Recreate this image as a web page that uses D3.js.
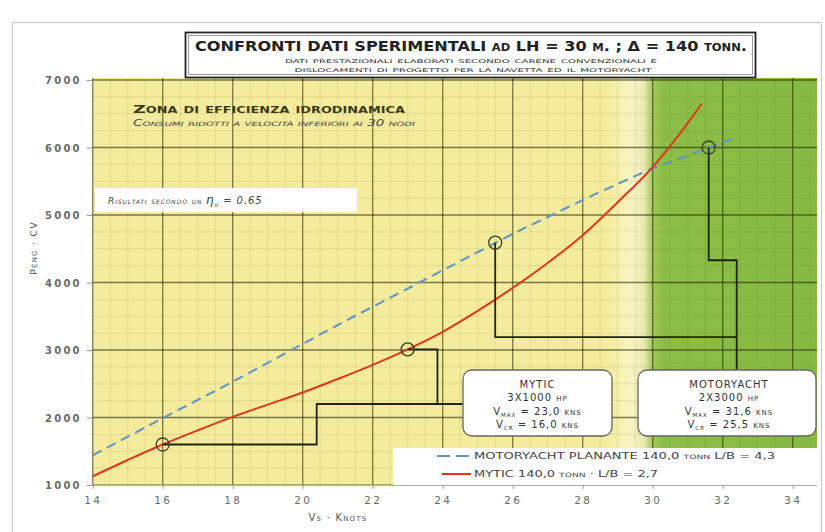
<!DOCTYPE html>
<html><head><meta charset="utf-8">
<script src="https://cdn.jsdelivr.net/npm/d3@7"></script>
<style>
body{margin:0;background:#fff;}
svg text{font-family:"DejaVu Sans",sans-serif;}
</style></head>
<body><svg id="c" width="825" height="532"></svg>
<script>
// ---------- DATA ----------
const xTicks = [14,16,18,20,22,24,26,28,30,32,34];
const yTicks = [1000,2000,3000,4000,5000,6000,7000];
const myticSpeed = [14,15,16,17,18,19,20,21,22,23,24,25,26,27,28,29,30,31,31.4];
const myticPower = [1130,1370,1600,1810,2010,2190,2370,2570,2780,3010,3270,3580,3920,4290,4700,5190,5710,6360,6650];
const yachtSpeed = [14,15,16,17,18,19,20,21,22,23,24,25,26,27,28,29,30,31,31.6,32.3];
const yachtPower = [1440,1715,1990,2260,2530,2810,3090,3370,3640,3910,4180,4450,4720,4970,5220,5460,5690,5880,6000,6130];
// marked operating points [knots, CV]
const myticPoints = [[16,1600],[23,3010]];
const yachtPoints = [[25.5,4590],[31.6,6000]];
// leader lines [knots, CV]
const myticLeaders = [[[16,1600],[20.4,1600],[20.4,2200],[25,2200]],[[23,3010],[23.85,3010],[23.85,2200]]];
const yachtLeaders = [[[25.5,4590],[25.5,3190],[32.4,3190]],[[31.6,6000],[31.6,4330],[32.4,4330],[32.4,2700]]];
const legendLabels = ["MOTORYACHT PLANANTE 140,0 tonn L/B = 4,3","MYTIC 140,0 tonn · L/B = 2,7"];

// ---------- LAYOUT ----------
const svg = d3.select("#c");
const L=92.7, R=817, T=80, B=485;
const x = d3.scaleLinear().domain([14,34]).range([L, L+20*35]);
const y = d3.scaleLinear().domain([1000,7000]).range([B,T]);
const xMax = x.invert(R);

svg.append("rect").attr("x",12.5).attr("y",22.5).attr("width",809).attr("height",520)
  .attr("fill","#fff").attr("stroke","#c8c8c8").attr("stroke-width",1.2);

// background gradient yellow -> green
const defs = svg.append("defs");
const g = defs.append("linearGradient").attr("id","bg").attr("gradientUnits","userSpaceOnUse")
  .attr("x1",L).attr("x2",R).attr("y1",0).attr("y2",0);
const frac = v => (x(v)-L)/(R-L);
[[14,"#f4ec9c"],[28.7,"#f4ec9c"],[29.4,"#f8f4c2"],[29.75,"#e8eab0"],[30.0,"#a2c85a"],[30.3,"#8bbd47"],[xMax,"#86b942"]]
  .forEach(([v,c])=>g.append("stop").attr("offset",frac(v)).attr("stop-color",c));
svg.append("rect").attr("x",L).attr("y",T-2).attr("width",R-L).attr("height",B-T+2).attr("fill","url(#bg)");

// minor grid
const minorX = d3.range(14.5, xMax, 0.5).filter(v=>v%2!==0);
const minorY = d3.range(1250, 7000, 250).filter(v=>v%1000!==0);
svg.append("g").selectAll("line").data(minorX).join("line")
  .attr("x1",d=>x(d)).attr("x2",d=>x(d)).attr("y1",T-2).attr("y2",B)
  .attr("stroke","rgba(90,80,20,0.14)").attr("stroke-width",0.8);
svg.append("g").selectAll("line").data(minorY).join("line")
  .attr("x1",L).attr("x2",R).attr("y1",d=>y(d)).attr("y2",d=>y(d))
  .attr("stroke","rgba(90,80,20,0.14)").attr("stroke-width",0.8);
// major grid
svg.append("g").selectAll("line").data(xTicks).join("line")
  .attr("x1",d=>x(d)).attr("x2",d=>x(d)).attr("y1",T-2).attr("y2",B)
  .attr("stroke","rgba(35,35,5,0.58)").attr("stroke-width",1.3);
svg.append("g").selectAll("line").data(yTicks.slice(1)).join("line")
  .attr("x1",L).attr("x2",R).attr("y1",d=>y(d)).attr("y2",d=>y(d))
  .attr("stroke","rgba(35,35,5,0.58)").attr("stroke-width",1.3);
svg.append("line").attr("x1",L).attr("x2",R).attr("y1",B).attr("y2",B).attr("stroke","#8aa84a").attr("stroke-width",1.5);

// axes
const yAxis = d3.axisLeft(y).tickValues(yTicks).tickSize(6).tickPadding(5).tickFormat(d3.format("d"));
const ya = svg.append("g").attr("transform",`translate(${L},0)`).call(yAxis);
ya.select(".domain").remove();
ya.selectAll("line").attr("stroke","#999");
ya.selectAll("text").attr("fill","#6a6a6a").attr("font-size",10).attr("font-weight","bold").attr("letter-spacing",2.2).attr("dy","0.35em");
const xAxis = d3.axisBottom(x).tickValues(xTicks).tickSize(4).tickPadding(8);
const xa = svg.append("g").attr("transform",`translate(0,${B})`).call(xAxis);
xa.select(".domain").remove();
xa.selectAll("line").attr("stroke","#999");
xa.selectAll("text").attr("fill","#6a6a6a").attr("font-size",10.5).attr("letter-spacing",2.2);

svg.append("text").attr("x",338).attr("y",521).attr("text-anchor","middle")
  .attr("font-size",10).attr("fill","#555").attr("letter-spacing",1.2).style("font-variant","small-caps")
  .text("Vs · Knots");
svg.append("text").attr("transform","translate(37,248) rotate(-90)").attr("text-anchor","middle")
  .attr("font-size",9.5).attr("fill","#555").attr("letter-spacing",1.2).style("font-variant","small-caps")
  .text("Peng · CV");

// curves
const line = d3.line().x(d=>x(d[0])).y(d=>y(d[1])).curve(d3.curveMonotoneX);
svg.append("path").datum(yachtSpeed.map((s,i)=>[s,yachtPower[i]])).attr("d",line)
  .attr("fill","none").attr("stroke","#5d93c8").attr("stroke-width",2).attr("stroke-dasharray","10,6");
svg.append("path").datum(myticSpeed.map((s,i)=>[s,myticPower[i]])).attr("d",line)
  .attr("fill","none").attr("stroke","#e0361c").attr("stroke-width",2);

// leaders
const pl = d3.line().x(d=>x(d[0])).y(d=>y(d[1]));
svg.append("g").selectAll("path").data(myticLeaders.concat(yachtLeaders)).join("path")
  .attr("d",pl).attr("fill","none").attr("stroke","#1d2410").attr("stroke-width",1.8);
svg.append("g").selectAll("circle").data(myticPoints.concat(yachtPoints)).join("circle")
  .attr("cx",d=>x(d[0])).attr("cy",d=>y(d[1])).attr("r",6.5)
  .attr("fill","none").attr("stroke","#3a3a1a").attr("stroke-width",1.3);

// title box
svg.append("rect").attr("x",185.5).attr("y",32.5).attr("width",570).attr("height",45)
  .attr("fill","#fff").attr("stroke","#222").attr("stroke-width",1.8);
svg.append("rect").attr("x",188.5).attr("y",35.5).attr("width",564).attr("height",39)
  .attr("fill","none").attr("stroke","#555").attr("stroke-width",0.6);
svg.append("text").attr("x",471).attr("y",51).attr("text-anchor","middle").attr("font-size",14).attr("font-weight","bold")
  .attr("fill","#222").attr("textLength",552).attr("lengthAdjust","spacingAndGlyphs").style("font-variant","small-caps")
  .text("CONFRONTI DATI SPERIMENTALI ad LH = 30 m. ; Δ = 140 tonn.");
svg.append("text").attr("x",471).attr("y",62.5).attr("text-anchor","middle").attr("font-size",7.5)
  .attr("fill","#333").attr("textLength",372).attr("lengthAdjust","spacingAndGlyphs").style("font-variant","small-caps")
  .text("dati prestazionali elaborati secondo carene convenzionali e");
svg.append("text").attr("x",473).attr("y",72).attr("text-anchor","middle").attr("font-size",7.5)
  .attr("fill","#333").attr("textLength",357).attr("lengthAdjust","spacingAndGlyphs").style("font-variant","small-caps")
  .text("dislocamenti di progetto per la navetta ed il motoryacht");

// zone text
svg.append("text").attr("x",133).attr("y",113).attr("font-size",11).attr("font-weight","bold")
  .attr("fill","#3a3818").attr("textLength",272).attr("lengthAdjust","spacingAndGlyphs").style("font-variant","small-caps")
  .text("Zona di efficienza idrodinamica");
svg.append("text").attr("x",133).attr("y",126).attr("font-size",8).attr("font-style","italic")
  .attr("fill","#444").attr("textLength",282).attr("lengthAdjust","spacingAndGlyphs").style("font-variant","small-caps")
  .text("Consumi ridotti a velocità inferiori ai 30 nodi");

// risultati box
svg.append("rect").attr("x",95).attr("y",188).attr("width",262).attr("height",24).attr("fill","#fff");
const rt = svg.append("text").attr("x",108).attr("y",204).attr("font-size",9).attr("font-style","italic")
  .attr("fill","#444").attr("letter-spacing",0.9);
rt.append("tspan").style("font-variant","small-caps").text("Risultati secondo un ");
rt.append("tspan").attr("font-size",12).text("η");
rt.append("tspan").attr("font-size",6).attr("dy",3).text("o");
rt.append("tspan").attr("dy",-3).attr("font-size",10).text(" = 0.65");

// annotation boxes
function infoBox(cx, x0, w, lines){
  svg.append("rect").attr("x",x0).attr("y",370).attr("width",w).attr("height",66).attr("rx",9)
    .attr("fill","#fff").attr("stroke","#666").attr("stroke-width",1.3);
  const ys=[388,401,415,428];
  lines.forEach((ln,i)=>{
    const t=svg.append("text").attr("x",cx).attr("y",ys[i]).attr("text-anchor","middle")
      .attr("font-size",10).attr("fill","#333").attr("letter-spacing",1).style("font-variant","small-caps");
    ln.forEach(seg=>{
      const s=t.append("tspan").text(seg.t);
      if(seg.sub){s.attr("font-size",5.5).attr("dy",2);}
      if(seg.up){s.attr("dy",-2);}
    });
  });
}
infoBox(537.5, 463, 149, [
  [{t:"MYTIC"}],[{t:"3X1000 hp"}],
  [{t:"V"},{t:"MAX",sub:1},{t:" = 23,0 kns",up:1}],
  [{t:"V"},{t:"CR",sub:1},{t:" = 16,0 kns",up:1}]]);
infoBox(729, 638, 178, [
  [{t:"MOTORYACHT"}],[{t:"2X3000 hp"}],
  [{t:"V"},{t:"MAX",sub:1},{t:" = 31,6 kns",up:1}],
  [{t:"V"},{t:"CR",sub:1},{t:" = 25,5 kns",up:1}]]);

// legend
svg.append("rect").attr("x",393).attr("y",448).attr("width",R-393).attr("height",B-448).attr("fill","#fff");
svg.append("line").attr("x1",437).attr("x2",472).attr("y1",456).attr("y2",456)
  .attr("stroke","#5d93c8").attr("stroke-width",2).attr("stroke-dasharray","13,6");
svg.append("line").attr("x1",442).attr("x2",471).attr("y1",474).attr("y2",474)
  .attr("stroke","#e0361c").attr("stroke-width",2);
svg.append("text").attr("x",474).attr("y",459).attr("font-size",8.5).attr("fill","#444")
  .attr("textLength",301).attr("lengthAdjust","spacingAndGlyphs").style("font-variant","small-caps").text(legendLabels[0]);
svg.append("text").attr("x",474).attr("y",477).attr("font-size",8.5).attr("fill","#444")
  .attr("textLength",184).attr("lengthAdjust","spacingAndGlyphs").style("font-variant","small-caps").text(legendLabels[1]);
</script></body></html>
